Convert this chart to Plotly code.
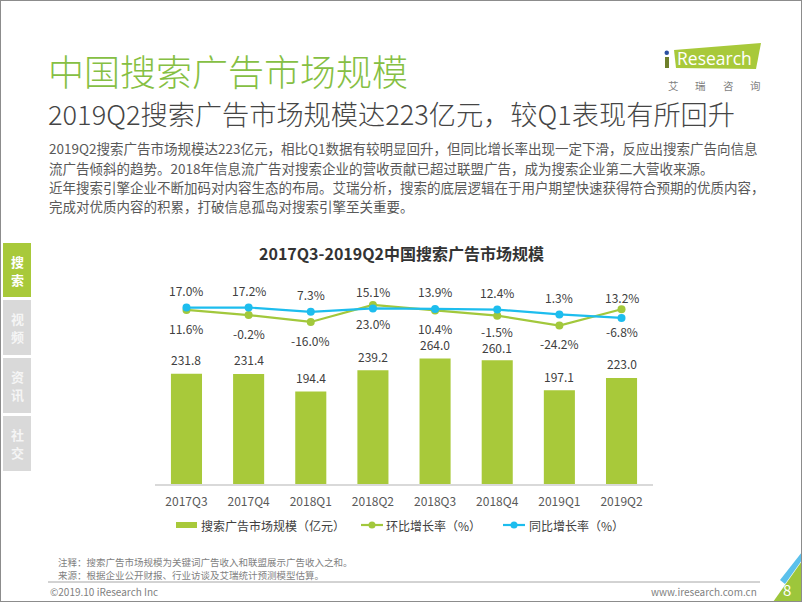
import plotly.graph_objects as go

W, H = 802, 602


def px(x):
    return x / W


def py(y):
    return 1 - y / H


# ---------------- data ----------------
categories = ["2017Q3", "2017Q4", "2018Q1", "2018Q2", "2018Q3", "2018Q4", "2019Q1", "2019Q2"]
market_size = [231.8, 231.4, 194.4, 239.2, 264.0, 260.1, 197.1, 223.0]
qoq_growth = [11.6, -0.2, -16.0, 23.0, 10.4, -1.5, -24.2, 13.2]
yoy_growth = [17.0, 17.2, 7.3, 15.1, 13.9, 12.4, 1.3, -6.8]

series_names = ["搜索广告市场规模（亿元）", "环比增长率（%）", "同比增长率（%）"]
sidebar_labels = ["搜\n索", "视\n频", "资\n讯", "社\n交"]

# ---------------- styles ----------------
BAR_GREEN = "#A8C93A"
LINE_GREEN = "#A2C83C"
LINE_BLUE = "#1DBDEE"
TITLE_GREEN = "#86BF43"
DARK = "#404040"
GRAY = "#595959"
FONT = "Noto Sans CJK SC, Noto Sans, sans-serif"

fig = go.Figure()

fig.add_trace(go.Bar(
    x=categories, y=market_size, name=series_names[0],
    marker=dict(color=BAR_GREEN, line=dict(width=0)),
    yaxis="y", showlegend=False, hoverinfo="x+y",
))
fig.add_trace(go.Scatter(
    x=categories, y=qoq_growth, name=series_names[1], mode="lines+markers",
    line=dict(color=LINE_GREEN, width=2.2), marker=dict(size=8, color=LINE_GREEN),
    yaxis="y2", showlegend=False,
))
fig.add_trace(go.Scatter(
    x=categories, y=yoy_growth, name=series_names[2], mode="lines+markers",
    line=dict(color=LINE_BLUE, width=2.2), marker=dict(size=8, color=LINE_BLUE),
    yaxis="y2", showlegend=False,
))

annotations = []
shapes = []

# data labels
bar_shift = [14, 14, 14, 14, 14, 13, 14, 14]
for i, (c, v) in enumerate(zip(categories, market_size)):
    annotations.append(dict(x=c, y=v, xref="x", yref="y", text=f"{v:.1f}", showarrow=False,
                            yshift=bar_shift[i], font=dict(size=12, color=DARK, family=FONT)))
yoy_shift = [17, 17, 17, 17, 17, 17, 17, -14]
qoq_shift = [-18.5, -18.5, -18.5, -18.5, -18.5, -16, -18, 12]
for i, (c, v) in enumerate(zip(categories, yoy_growth)):
    annotations.append(dict(x=c, y=v, xref="x", yref="y2", text=f"{v:.1f}%", showarrow=False,
                            yshift=yoy_shift[i], font=dict(size=12, color=DARK, family=FONT)))
for i, (c, v) in enumerate(zip(categories, qoq_growth)):
    annotations.append(dict(x=c, y=v, xref="x", yref="y2", text=f"{v:.1f}%", showarrow=False,
                            yshift=qoq_shift[i], font=dict(size=12, color=DARK, family=FONT)))


def txt(x, y, text, size, color, xanchor="left", bold=False, family=FONT, weight=None):
    if bold:
        text = f"<b>{text}</b>"
    f = dict(size=size, color=color, family=family)
    if weight is not None:
        f["weight"] = weight
    annotations.append(dict(x=px(x), y=py(y), xref="paper", yref="paper", text=text,
                            showarrow=False, xanchor=xanchor, yanchor="middle", font=f))


# titles
txt(46, 70, "中国搜索广告市场规模", 36, TITLE_GREEN, weight=300)
txt(46, 113, "2019Q2搜索广告市场规模达223亿元，较Q1表现有所回升", 27.2, "#454545", weight=300)

para = [
    "2019Q2搜索广告市场规模达223亿元，相比Q1数据有较明显回升，但同比增长率出现一定下滑，反应出搜索广告向信息",
    "流广告倾斜的趋势。2018年信息流广告对搜索企业的营收贡献已超过联盟广告，成为搜索企业第二大营收来源。",
    "近年搜索引擎企业不断加码对内容生态的布局。艾瑞分析，搜索的底层逻辑在于用户期望快速获得符合预期的优质内容，",
    "完成对优质内容的积累，打破信息孤岛对搜索引擎至关重要。",
]
for i, line in enumerate(para):
    txt(47, 148 + i * 19.5, line, 13.5, GRAY)

# chart title
txt(401, 253, "2017Q3-2019Q2中国搜索广告市场规模", 16, "#333333", xanchor="center", bold=True)

# sidebar
side_boxes = [(243, 297), (300, 355), (358, 413), (416, 471)]
for i, ((y0, y1), lab) in enumerate(zip(side_boxes, sidebar_labels)):
    color = BAR_GREEN if i == 0 else "#D9D9D9"
    shapes.append(dict(type="rect", xref="paper", yref="paper", x0=px(3), x1=px(31),
                       y0=py(y1), y1=py(y0), fillcolor=color, line=dict(width=0), layer="below"))
    chars = lab.split("\n")
    ym = (y0 + y1) / 2
    txt(17, ym - 9, chars[0], 13, "#FFFFFF" if i == 0 else "#F5F5F5", xanchor="center", bold=True)
    txt(17, ym + 9, chars[1], 13, "#FFFFFF" if i == 0 else "#F5F5F5", xanchor="center", bold=True)

# legend (manual)
leg_y = 525
shapes.append(dict(type="rect", xref="paper", yref="paper", x0=px(176), x1=px(197),
                   y0=py(528), y1=py(522), fillcolor=BAR_GREEN, line=dict(width=0)))
txt(199, leg_y, series_names[0], 12, DARK)
for (x0, x1, col, tx, name) in [(361, 383, LINE_GREEN, 384, series_names[1]),
                                (503, 525, LINE_BLUE, 527, series_names[2])]:
    shapes.append(dict(type="line", xref="paper", yref="paper", x0=px(x0), x1=px(x1),
                       y0=py(leg_y), y1=py(leg_y), line=dict(color=col, width=2.2)))
    xm = (x0 + x1) / 2
    shapes.append(dict(type="circle", xref="paper", yref="paper", x0=px(xm - 3.5), x1=px(xm + 3.5),
                       y0=py(leg_y + 3.5), y1=py(leg_y - 3.5), fillcolor=col, line=dict(width=0)))
    txt(tx, leg_y, name, 12, DARK)

# footer
txt(56, 562, "注释：搜索广告市场规模为关键词广告收入和联盟展示广告收入之和。", 9.5, "#7F7F7F")
txt(56, 574.5, "来源：根据企业公开财报、行业访谈及艾瑞统计预测模型估算。", 9.5, "#7F7F7F")
shapes.append(dict(type="line", xref="paper", yref="paper", x0=px(48), x1=px(760),
                   y0=py(582), y1=py(582), line=dict(color="#A6A6A6", width=1)))
txt(48, 591, "©2019.10 iResearch Inc", 10, "#7F7F7F")
txt(759, 591, "www.iresearch.com.cn", 10, "#7F7F7F", xanchor="right")


# bottom-right corner decoration
def path(pts):
    return "M " + " L ".join(f"{px(a)},{py(b)}" for a, b in pts) + " Z"


shapes.append(dict(type="path", xref="paper", yref="paper",
                   path=path([(780, 580), (802, 552), (802, 560), (785, 584)]),
                   fillcolor="#5BC0EB", line=dict(width=0)))
shapes.append(dict(type="path", xref="paper", yref="paper",
                   path=path([(773, 602), (802, 602), (802, 561)]),
                   fillcolor="#9DC63B", line=dict(width=0)))
txt(787, 589, "8", 15, "#FFFFFF", xanchor="center")

# logo
shapes.append(dict(type="path", xref="paper", yref="paper",
                   path=path([(674, 50), (761, 43), (756, 69), (676, 68)]),
                   fillcolor="#A8C93A", line=dict(width=0)))
shapes.append(dict(type="rect", xref="paper", yref="paper", x0=px(665), x1=px(669),
                   y0=py(68), y1=py(57), fillcolor="#6E7F2A", line=dict(width=0)))
shapes.append(dict(type="circle", xref="paper", yref="paper", x0=px(664.5), x1=px(669),
                   y0=py(55), y1=py(50.5), fillcolor="#2B4FA0", line=dict(width=0)))
txt(714, 58, "Research", 17.5, "#FFFFFF", xanchor="center", family="Open Sans, sans-serif")
for i, ch in enumerate(["艾", "瑞", "咨", "询"]):
    txt(673 + i * 27.5, 86, ch, 10.5, "#7F7F7F", xanchor="center")

# slide border
shapes.append(dict(type="rect", xref="paper", yref="paper", x0=0, x1=1, y0=0, y1=1,
                   line=dict(color="#8C8C8C", width=2), layer="above"))

fig.update_layout(
    width=W, height=H, autosize=False,
    margin=dict(l=0, r=0, t=0, b=0),
    paper_bgcolor="#FFFFFF", plot_bgcolor="#FFFFFF",
    bargap=0.5,
    font=dict(family=FONT, color=DARK),
    xaxis=dict(domain=[px(155.4), px(652.6)], type="category", range=[-0.5, 7.5],
               showline=True, linecolor="#D9D9D9", linewidth=1.5, showgrid=False,
               ticks="", ticklabelstandoff=6, tickfont=dict(size=12, color=GRAY, family=FONT)),
    yaxis=dict(domain=[py(484), py(270)], range=[0, 450], visible=False),
    yaxis2=dict(overlaying="y", range=[-388.5, 103.4], visible=False),
    annotations=annotations,
    shapes=shapes,
    hovermode=False,
)

fig.write_html("out.html", config={"displayModeBar": False},
               post_script="document.body.style.margin='0px';")
